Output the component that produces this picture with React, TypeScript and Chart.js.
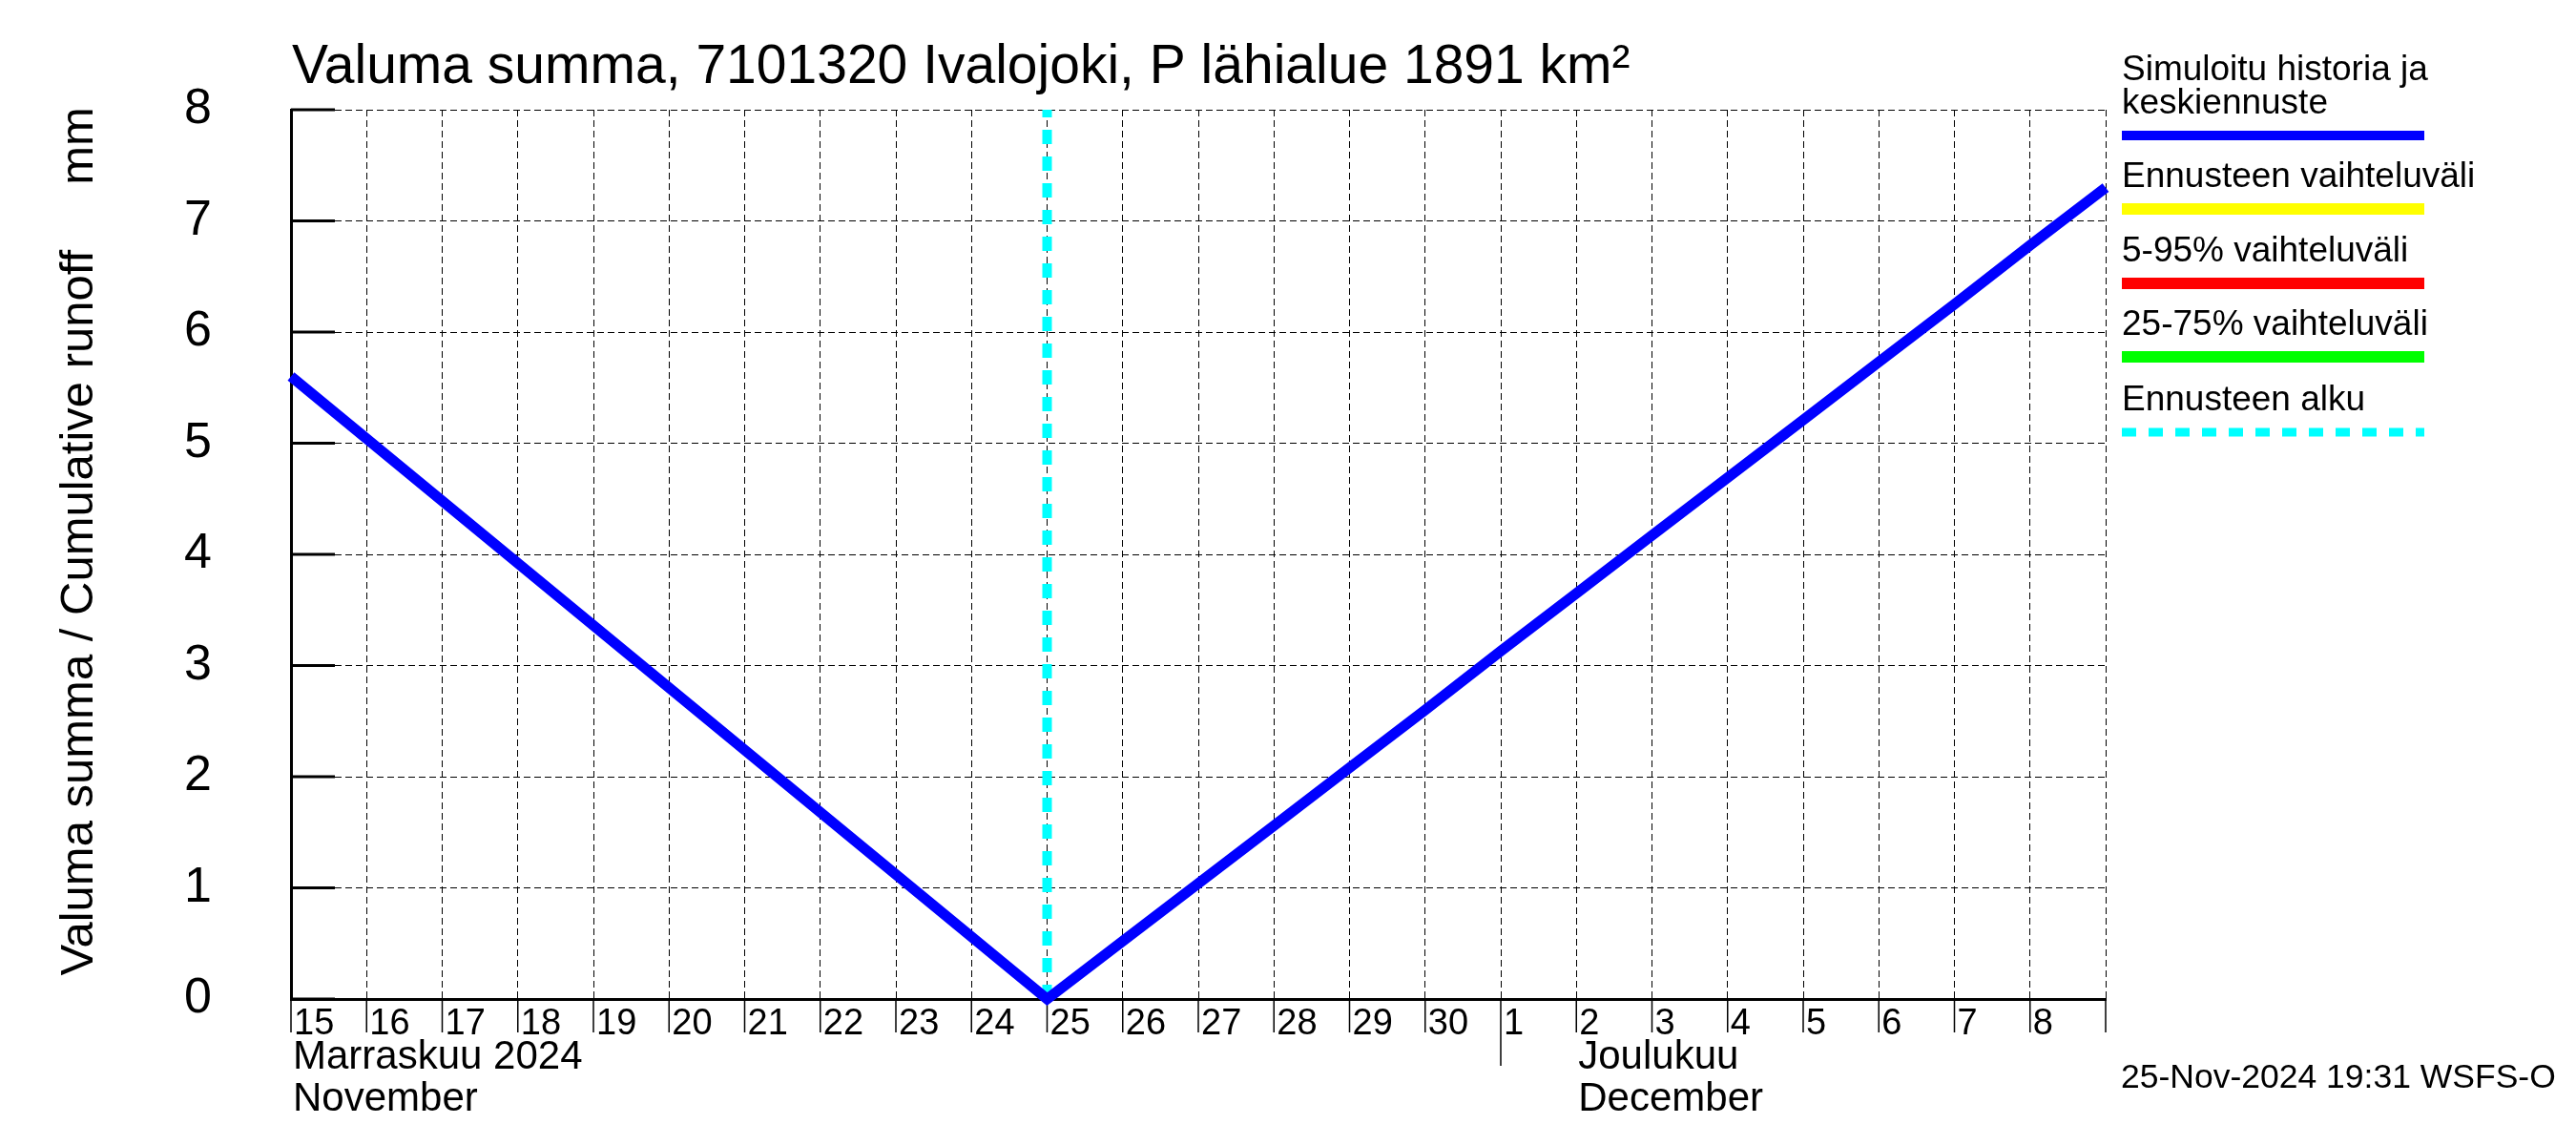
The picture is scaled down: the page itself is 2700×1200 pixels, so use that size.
import { useEffect, useRef } from 'react';
import { Chart, registerables } from 'chart.js';

Chart.register(...registerables);

// ---------------- data ----------------
const dayLabels = ['15', '16', '17', '18', '19', '20', '21', '22', '23', '24', '25', '26', '27', '28', '29', '30', '1', '2', '3', '4', '5', '6', '7', '8'];
// cumulative runoff (mm), one value per day from 15 Nov 00:00 to 9 Dec 00:00
const runoffValues = [5.6, 5.04, 4.48, 3.92, 3.36, 2.8, 2.24, 1.68, 1.12, 0.56, 0.0, 0.52, 1.04, 1.56, 2.08, 2.6, 3.13, 3.65, 4.17, 4.69, 5.21, 5.73, 6.25, 6.78, 7.3];
const forecastStartDay = 10;
const yMin = 0;
const yMax = 8;
const monthBoundaryDay = 16;
const monthLabelDays = [0, 17];
const monthLabelsFi = ['Marraskuu 2024', 'Joulukuu'];
const monthLabelsEn = ['November', 'December'];
const legendLabels = [['Simuloitu historia ja', 'keskiennuste'], ['Ennusteen vaihteluväli'], ['5-95% vaihteluväli'], ['25-75% vaihteluväli'], ['Ennusteen alku']];
const legendColors = ['#0000ff', '#ffff00', '#ff0000', '#00ff00', '#00ffff'];
const titleText = 'Valuma summa, 7101320 Ivalojoki, P lähialue 1891 km²';
const yAxisTitle = '  Valuma summa / Cumulative runoff     mm';
const timestampText = '25-Nov-2024 19:31 WSFS-O';

const FONT = '"Liberation Sans", Arial, Helvetica, sans-serif';

const decorations = {
  id: 'decorations',
  beforeDatasetsDraw(chart: any) {
    const { ctx, chartArea } = chart;
    const xs = chart.scales.x;
    const ys = chart.scales.y;
    ctx.save();
    ctx.strokeStyle = '#000';
    ctx.setLineDash([]);
    // inner y ticks
    ctx.lineWidth = 3;
    ys.ticks.forEach((t: any) => {
      const y = ys.getPixelForValue(t.value);
      ctx.beginPath();
      ctx.moveTo(chartArea.left, y);
      ctx.lineTo(chartArea.left + 46, y);
      ctx.stroke();
    });
    // x tick marks below axis
    ctx.lineWidth = 1.5;
    xs.ticks.forEach((t: any) => {
      const x = xs.getPixelForValue(t.value);
      const len = t.value === monthBoundaryDay ? 70 : 35;
      ctx.beginPath();
      ctx.moveTo(x, chartArea.bottom);
      ctx.lineTo(x, chartArea.bottom + len);
      ctx.stroke();
    });
    ctx.restore();
  },
  afterDraw(chart: any) {
    const { ctx } = chart;
    const xs = chart.scales.x;
    ctx.save();
    ctx.fillStyle = '#000';
    ctx.textBaseline = 'alphabetic';
    ctx.textAlign = 'left';
    // title
    ctx.font = `57px ${FONT}`;
    ctx.fillText(titleText, 306, 87);
    // month labels
    ctx.font = `42px ${FONT}`;
    monthLabelDays.forEach((d, i) => {
      const x = xs.getPixelForValue(d) + 2;
      ctx.fillText(monthLabelsFi[i], x, 1120);
      ctx.fillText(monthLabelsEn[i], x, 1164);
    });
    // legend
    const lx = 2224;
    const lx2 = 2541;
    const lineYs = [142, 219, 297, 374, 453];
    ctx.font = `37px ${FONT}`;
    legendLabels.forEach((lines, i) => {
      const ly = lineYs[i];
      lines.forEach((txt, j) => {
        const base = ly - 23 - (lines.length - 1 - j) * 35;
        ctx.fillText(txt, lx, base);
      });
      ctx.beginPath();
      ctx.strokeStyle = legendColors[i];
      if (i === 4) {
        ctx.lineWidth = 9;
        ctx.setLineDash([15, 13]);
      } else {
        ctx.lineWidth = i === 0 ? 10 : 12;
        ctx.setLineDash([]);
      }
      ctx.moveTo(lx, ly);
      ctx.lineTo(lx2, ly);
      ctx.stroke();
    });
    ctx.setLineDash([]);
    // timestamp
    ctx.font = `35.5px ${FONT}`;
    ctx.fillText(timestampText, 2223, 1140);
    ctx.restore();
  },
};

export default function App() {
  const ref = useRef<HTMLCanvasElement | null>(null);
  useEffect(() => {
    if (!ref.current) return;
    const chart = new Chart(ref.current, {
      type: 'line',
      data: {
        datasets: [
          {
            label: 'Simuloitu historia ja keskiennuste',
            data: runoffValues.map((v, i) => ({ x: i, y: v })),
            borderColor: '#0000ff',
            borderWidth: 11,
            pointRadius: 0,
            tension: 0,
            clip: false as any,
          },
          {
            label: 'Ennusteen alku',
            data: [
              { x: forecastStartDay, y: yMin },
              { x: forecastStartDay, y: yMax },
            ],
            borderColor: '#00ffff',
            borderWidth: 10,
            borderDash: [15, 13],
            pointRadius: 0,
          },
        ],
      },
      options: {
        animation: false,
        responsive: false,
        maintainAspectRatio: false,
        devicePixelRatio: 1,
        layout: { padding: { left: 0, top: 115, right: 493, bottom: 0 } },
        plugins: { legend: { display: false }, tooltip: { enabled: false }, title: { display: false } },
        scales: {
          x: {
            type: 'linear',
            min: 0,
            max: dayLabels.length,
            afterFit: (s: any) => {
              s.height = 153;
            },
            ticks: {
              stepSize: 1,
              autoSkip: false,
              maxRotation: 0,
              align: 'start',
              labelOffset: 3,
              padding: 4,
              color: '#000',
              font: { family: FONT, size: 38 },
              callback: (v: any) => dayLabels[v] ?? '',
            },
            grid: { color: '#000', lineWidth: 1, drawTicks: false },
            border: { display: true, color: '#000', width: 3, dash: [7, 4] },
          },
          y: {
            type: 'linear',
            min: yMin,
            max: yMax,
            afterFit: (s: any) => {
              s.width = 305;
            },
            ticks: {
              stepSize: 1,
              padding: 83,
              color: '#000',
              font: { family: FONT, size: 52 },
            },
            title: {
              display: true,
              text: yAxisTitle,
              color: '#000',
              font: { family: FONT, size: 49 },
              padding: { top: 54, bottom: 0 },
            },
            grid: { color: '#000', lineWidth: 1, drawTicks: false },
            border: { display: true, color: '#000', width: 3, dash: [7, 4] },
          },
        },
      },
      plugins: [decorations],
    });
    return () => chart.destroy();
  }, []);
  return (
    <div style={{ position: 'fixed', left: 0, top: 0, width: 2700, height: 1200, background: '#fff' }}>
      <canvas ref={ref} width={2700} height={1200} style={{ width: 2700, height: 1200, display: 'block' }} />
    </div>
  );
}
